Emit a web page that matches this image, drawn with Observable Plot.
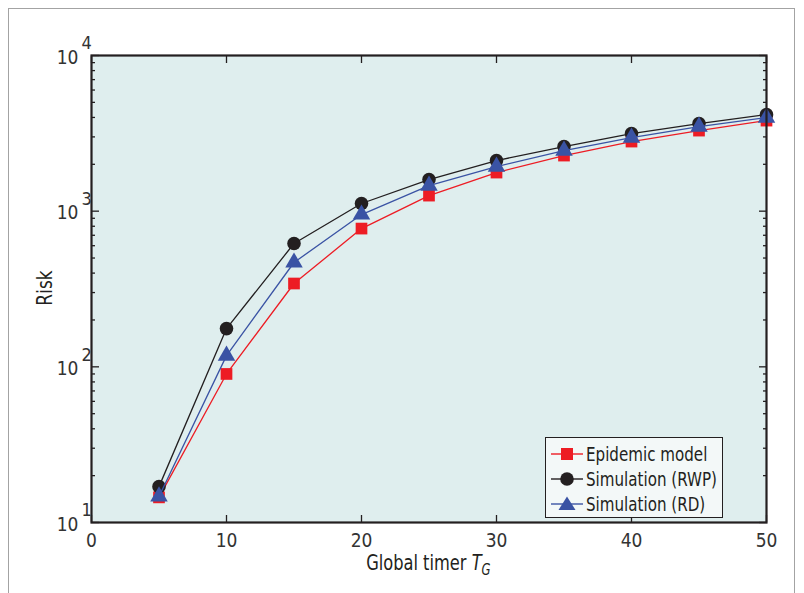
<!DOCTYPE html>
<html><head><meta charset="utf-8">
<script src="https://cdn.jsdelivr.net/npm/d3@7"></script>
<script src="https://cdn.jsdelivr.net/npm/@observablehq/plot@0.6"></script>
<style>
html,body{margin:0;padding:0;background:#fff;}
#wrap{position:relative;width:804px;height:593px;overflow:hidden;font-family:"DejaVu Sans Condensed","Open Sans",sans-serif;color:#231f20;}
#border{position:absolute;left:8px;top:8px;width:787px;height:700px;border:1.5px solid #a3a3a3;box-sizing:border-box;}
#chart{position:absolute;left:0;top:0;}
#xlabel{position:absolute;left:91px;width:675px;top:552px;text-align:center;font-size:21px;line-height:22px;}
#xlabel span{display:inline-block;transform:scaleX(0.86);transform-origin:center;}
#xlabel sub{font-size:15px;vertical-align:-5px;line-height:0;}
#ylabel{position:absolute;left:45px;top:288px;font-size:21px;line-height:22px;transform:translate(-50%,-50%) rotate(-90deg) scaleX(0.9);white-space:nowrap;}
#legend{position:absolute;left:545px;top:437px;width:178px;height:81px;box-sizing:border-box;border:1.8px solid #231f20;background:#f3f8f8;padding-top:3px;}
.row{height:25px;display:flex;align-items:center;font-size:20px;white-space:nowrap;}
.row svg{margin-left:5px;margin-right:3px;flex:none;}
.row span{display:inline-block;transform:scaleX(0.84);transform-origin:left center;}
</style>
</head><body>
<div id="wrap">
<div id="border"></div>
<div id="chart"></div>
<div id="xlabel"><span>Global timer <i>T</i><sub><i>G</i></sub></span></div>
<div id="ylabel">Risk</div>
<div id="legend"></div>
</div>
<script>
const timer = [5, 10, 15, 20, 25, 30, 35, 40, 45, 50];
const epidemic = [14.5, 90, 343, 773, 1259, 1770, 2276, 2800, 3293, 3818];
const rwp = [17, 176, 620, 1120, 1596, 2113, 2600, 3150, 3654, 4170];
const rd = [14.7, 118, 468, 951, 1460, 1933, 2450, 2970, 3490, 3990];
const seriesNames = ["Epidemic model", "Simulation (RWP)", "Simulation (RD)"];
const seriesColors = ["#ed1c24", "#231f20", "#3a53a4"];
const seriesSymbols = ["square", "circle", "triangle"];
const xTicks = [0, 10, 20, 30, 40, 50];
const yMajor = [10, 100, 1000, 10000];
const yExp = ["1", "2", "3", "4"];
const yMinor = [20, 30, 40, 50, 60, 70, 80, 90, 200, 300, 400, 500, 600, 700, 800, 900, 2000, 3000, 4000, 5000, 6000, 7000, 8000, 9000];

const seriesValues = [epidemic, rwp, rd];
const symR = [6.6, 6.8, 6.5];
const font = '"DejaVu Sans Condensed","Open Sans",sans-serif';
const ink = "#231f20";
const labelInk = "#333333";

const seriesMarks = seriesValues.flatMap((vals, s) => [
  Plot.line(timer, {x: (d) => d, y: (d, i) => vals[i], stroke: seriesColors[s], strokeWidth: 1.3}),
  Plot.dot(timer, {x: (d) => d, y: (d, i) => vals[i], symbol: seriesSymbols[s], r: symR[s], fill: seriesColors[s], stroke: "none"})
]);

const chart = Plot.plot({
  width: 804, height: 593,
  marginLeft: 91, marginRight: 38, marginTop: 55, marginBottom: 71,
  x: {domain: [0, 50]},
  y: {type: "log", domain: [10, 10000]},
  style: {fontFamily: font, fontSize: "18px", color: ink, background: "transparent", overflow: "visible"},
  marks: [
    Plot.frame({fill: "#dfeeee", stroke: "none"}),
    Plot.axisX({anchor: "bottom", ticks: xTicks, tickSize: 7, dy: -7, tickFormat: () => "", stroke: ink, strokeWidth: 1.3}),
    Plot.axisX({anchor: "top", ticks: xTicks, tickSize: 7, dy: 7, tickFormat: () => "", stroke: ink, strokeWidth: 1.3}),
    Plot.axisY({anchor: "left", ticks: yMajor, tickSize: 8, dx: 8, tickFormat: () => "", stroke: ink, strokeWidth: 1.3}),
    Plot.axisY({anchor: "right", ticks: yMajor, tickSize: 8, dx: -8, tickFormat: () => "", stroke: ink, strokeWidth: 1.3}),
    Plot.axisY({anchor: "left", ticks: yMinor, tickSize: 4, dx: 4, tickFormat: () => "", stroke: ink, strokeWidth: 1.3}),
    Plot.axisY({anchor: "right", ticks: yMinor, tickSize: 4, dx: -4, tickFormat: () => "", stroke: ink, strokeWidth: 1.3}),
    ...seriesMarks,
    Plot.frame({stroke: ink, strokeWidth: 2.2}),
    Plot.text(xTicks, {x: (d) => d, frameAnchor: "bottom", dy: 18, lineAnchor: "middle", text: (d) => String(d), fontSize: 19, fill: labelInk}),
    Plot.text(yMajor, {y: (d) => d, frameAnchor: "left", dx: -13, dy: 2, textAnchor: "end", lineAnchor: "middle", text: () => "10", fontSize: 19, fill: labelInk}),
    Plot.text(yMajor, {y: (d) => d, frameAnchor: "left", dx: -10, dy: -12, textAnchor: "start", lineAnchor: "middle", text: (d, i) => yExp[i], fontSize: 18, fill: labelInk})
  ]
});
document.getElementById("chart").appendChild(chart);

// legend
const leg = document.getElementById("legend");
const symPath = {
  square: '<rect x="10" y="5" width="12" height="12" />',
  circle: '<circle cx="16" cy="11" r="6.8" />',
  triangle: '<path d="M16 3.5 L24.5 17 L7.5 17 Z" />'
};
seriesNames.forEach((name, s) => {
  const row = document.createElement("div");
  row.className = "row";
  row.innerHTML = `<svg width="32" height="22"><line x1="0" x2="32" y1="11" y2="11" stroke="${seriesColors[s]}" stroke-width="1.4"/><g fill="${seriesColors[s]}">${symPath[seriesSymbols[s]]}</g></svg><span>${name}</span>`;
  leg.appendChild(row);
});
</script>
</body></html>
